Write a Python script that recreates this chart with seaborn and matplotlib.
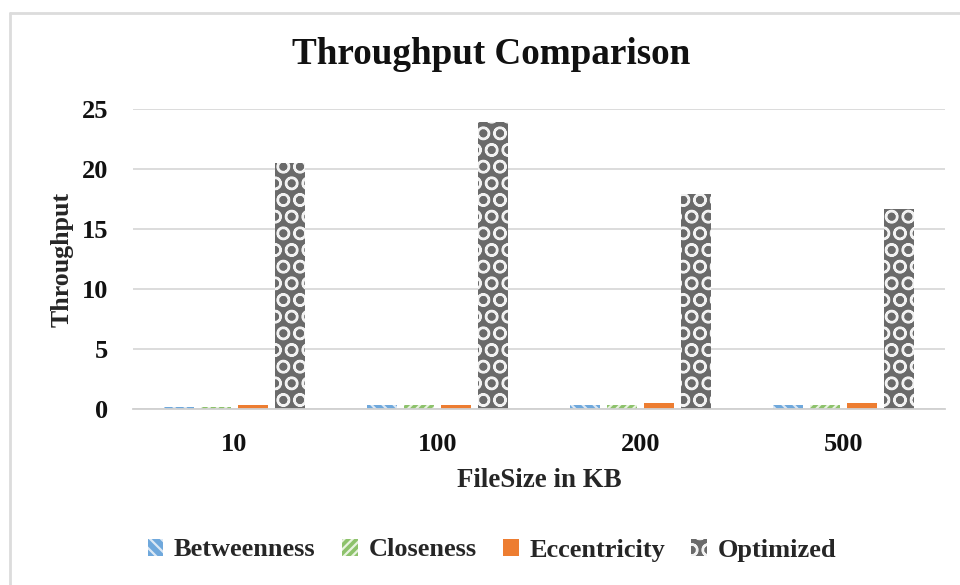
import numpy as np
import pandas as pd
import matplotlib
matplotlib.use("Agg")
import matplotlib.pyplot as plt
import seaborn as sns
from matplotlib.lines import Line2D
from matplotlib.patches import Patch

# Throughput per file size for each centrality method
file_sizes = ["10", "100", "200", "500"]
methods = ["Betweenness", "Closeness", "Eccentricity", "Optimized"]
betweenness = [0.15, 0.35, 0.35, 0.35]
closeness = [0.15, 0.35, 0.35, 0.35]
eccentricity = [0.3, 0.3, 0.5, 0.5]
optimized = [20.5, 23.9, 17.9, 16.7]
y_ticks = [0, 5, 10, 15, 20, 25]

df = pd.DataFrame({
    "FileSize": file_sizes * len(methods),
    "Method": np.repeat(methods, len(file_sizes)),
    "Throughput": betweenness + closeness + eccentricity + optimized,
})

sns.set_theme(style="white")
plt.rcParams["font.family"] = ["Liberation Serif", "DejaVu Serif"]
plt.rcParams["font.weight"] = "bold"
plt.rcParams["hatch.linewidth"] = 1.6

# face colour, hatch pattern and hatch colour per method
styles = {
    "Betweenness": ("#6fa8dc", "\\\\\\", "#dbe8f5"),
    "Closeness": ("#8dc26b", "////", "#e8f3df"),
    "Eccentricity": ("#ed7d31", "", "#ed7d31"),
    "Optimized": ("#6a6a6a", "O", "#f2f2f2"),
}
palette = {m: styles[m][0] for m in methods}

fig = plt.figure(figsize=(9.6, 5.85), dpi=100)
ax = fig.add_axes([133 / 960, 1 - 409 / 585, 812 / 960, 300 / 585])

sns.barplot(data=df, x="FileSize", y="Throughput", hue="Method",
            order=file_sizes, hue_order=methods, palette=palette,
            saturation=1, width=0.73, gap=0.18, legend=False, ax=ax)

for method, container in zip(methods, ax.containers):
    face, hatch, hcol = styles[method]
    for bar in container:
        bar.set_facecolor(face)
        bar.set_hatch(hatch)
        bar.set_edgecolor(hcol)
        bar.set_linewidth(0)

ax.set_ylim(0, 25)
ax.set_yticks(y_ticks)
ax.yaxis.grid(True, color="#d9d9d9", linewidth=1.3)
ax.set_axisbelow(True)
for side in ["top", "right", "left"]:
    ax.spines[side].set_visible(False)
ax.spines["bottom"].set_color("#d0d0d0")
ax.spines["bottom"].set_linewidth(1.3)
ax.tick_params(axis="both", length=0, labelsize=19, colors="#111111")
ax.tick_params(axis="y", pad=18)
ax.tick_params(axis="x", pad=17)

ax.set_xlabel("FileSize in KB", fontsize=19.4, fontweight="bold", labelpad=9)
ax.set_ylabel("Throughput", fontsize=18.6, fontweight="bold", labelpad=6)

fig.text(491 / 960, 1 - 55 / 585, "Throughput Comparison", ha="center",
         va="center", fontsize=26.7, fontweight="bold", color="#111111")

handles = [Patch(facecolor=styles[m][0], hatch=styles[m][1],
                 edgecolor=styles[m][2], linewidth=0) for m in methods]
fig.legend(handles, methods, loc="center", bbox_to_anchor=(492 / 960, 1 - 550 / 585),
           ncol=4, frameon=False, fontsize=19, handlelength=0.6, handleheight=0.6,
           handletextpad=0.4, columnspacing=1.0)

# thin frame along the top and left edges
fig.add_artist(Line2D([10 / 960, 10 / 960], [0, 1 - 13 / 585],
                      transform=fig.transFigure, color="#dcdcdc", linewidth=2))
fig.add_artist(Line2D([10 / 960, 1], [1 - 13 / 585, 1 - 13 / 585],
                      transform=fig.transFigure, color="#dcdcdc", linewidth=2))

fig.savefig("out.png", dpi=100)
